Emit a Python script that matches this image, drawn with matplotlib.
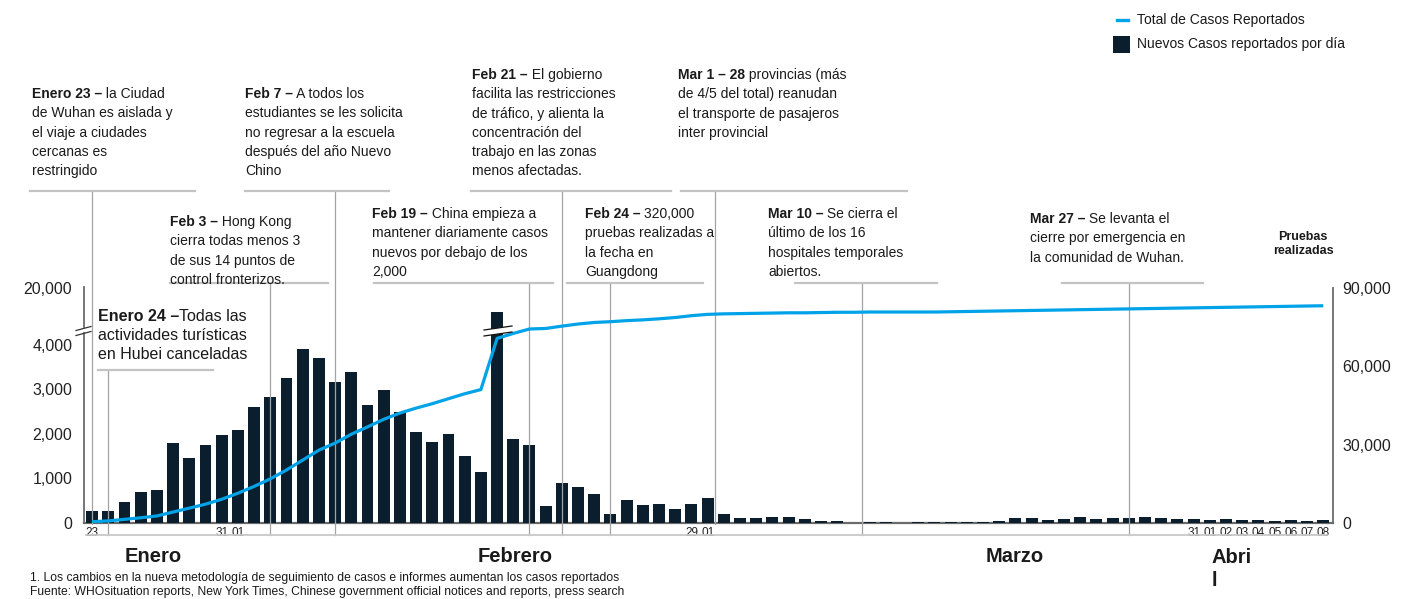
import numpy as np
import pandas as pd
import matplotlib
matplotlib.use("Agg")
from matplotlib import pyplot as plt
from matplotlib import font_manager, transforms
from matplotlib.patches import Polygon, Rectangle
from matplotlib.lines import Line2D

# ---- data ----
dates = pd.date_range("2020-01-23", "2020-04-08")
new_cases = [260, 260, 460, 690, 750, 1800, 1460, 1740, 1980, 2090,
             2590, 2830, 3240, 3910, 3710, 3170, 3390, 2650, 2990, 2480,
             2030, 1820, 2000, 1510, 1140, 13300, 1890, 1750, 390, 900,
             815, 660, 210, 520, 410, 430, 320, 430, 570, 210,
             120, 120, 140, 140, 100, 55, 55, 10, 30, 30,
             10, 30, 30, 30, 30, 30, 50, 120, 120, 75,
             100, 145, 100, 120, 120, 145, 120, 100, 100, 75,
             100, 75, 75, 55, 75, 55, 75]
total_cases = [500, 800, 1400, 2000, 2700, 4200, 5700, 7200, 9100, 11400,
               14000, 16900, 20300, 24100, 27900, 30600, 34000, 36800, 39700, 42100,
               44000, 45700, 47600, 49500, 51100, 70700, 72600, 74300, 74500, 75400,
               76200, 76800, 77100, 77500, 77800, 78200, 78700, 79400, 79900, 80100,
               80200, 80300, 80400, 80500, 80500, 80600, 80700, 80700, 80800, 80800,
               80800, 80800, 80800, 80900, 81000, 81100, 81200, 81300, 81400, 81500,
               81600, 81700, 81800, 81900, 82000, 82100, 82200, 82300, 82400, 82500,
               82600, 82700, 82800, 82900, 83000, 83100, 83200]
shown_days = ["2020-01-23", "2020-01-31", "2020-02-01", "2020-02-29", "2020-03-01",
              "2020-03-31", "2020-04-01", "2020-04-02", "2020-04-03", "2020-04-04",
              "2020-04-05", "2020-04-06", "2020-04-07", "2020-04-08"]
left_ticks = [0, 1000, 2000, 3000, 4000, 20000]
right_ticks = [0, 30000, 60000, 90000]

event_bold = ["Enero 23 \u2013", "Feb 7 \u2013", "Feb 21 \u2013", "Mar 1 \u2013 28",
              "Feb 3 \u2013", "Feb 19 \u2013", "Feb 24 \u2013", "Mar 10 \u2013",
              "Mar 27 \u2013", "Enero 24 \u2013"]
event_lines = [
    [" la Ciudad", "de Wuhan es aislada y", "el viaje a ciudades", "cercanas es", "restringido"],
    [" A todos los", "estudiantes se les solicita", "no regresar a la escuela",
     "despu\u00e9s del a\u00f1o Nuevo", "Chino"],
    [" El gobierno", "facilita las restricciones", "de tr\u00e1fico, y alienta la",
     "concentraci\u00f3n del", "trabajo en las zonas", "menos afectadas."],
    [" provincias (m\u00e1s", "de 4/5 del total) reanudan", "el transporte de pasajeros",
     "inter provincial"],
    [" Hong Kong", "cierra todas menos 3", "de sus 14 puntos de", "control fronterizos."],
    [" China empieza a", "mantener diariamente casos", "nuevos por debajo de los", "2,000"],
    [" 320,000", "pruebas realizadas a", "la fecha en", "Guangdong"],
    [" Se cierra el", "\u00faltimo de los 16", "hospitales temporales", "abiertos."],
    [" Se levanta el", "cierre por emergencia en", "la comunidad de Wuhan."],
    ["Todas las", "actividades tur\u00edsticas", "en Hubei canceladas"],
]
event_dates = ["2020-01-23", "2020-02-07", "2020-02-21", "2020-03-01", "2020-02-03",
               "2020-02-19", "2020-02-24", "2020-03-10", "2020-03-27", "2020-01-24"]

# ---- layout (pixels of the 1416x599 canvas) ----
W, H = 1416, 599
# text x, first baseline, rule x0, rule x1, rule y, line x offset (days)
event_layout = [
    (32, 98, 30, 195, 190.7, 0.0),
    (245, 98, 245, 389, 190.7, 0.0),
    (472, 79, 471, 671, 190.7, 0.0),
    (678, 79, 681, 907, 190.7, 0.45),
    (170, 226, 170, 328, 282.5, 0.0),
    (372, 218, 374, 553, 282.5, 0.0),
    (585, 218, 567, 703, 282.5, 0.0),
    (768, 218, 795, 937, 282.5, 0.55),
    (1030, 223, 1062, 1203, 282.5, 0.0),
    (98, 321, 98, 213, 369.7, 0.0),
]

NAVY = "#0b1e2e"
BLUE = "#00a3e8"
AXIS = "#6b6b6b"
TXT = "#1a1a1a"

plt.rcParams["font.family"] = "Liberation Sans"
names = {f.name for f in font_manager.fontManager.ttflist}
if "Liberation Sans Narrow" in names:
    NARROW, NSIZE = "Liberation Sans Narrow", 12
else:
    NARROW, NSIZE = "Liberation Sans", 10


def fx(x):
    return x / W


def fy(y):
    return 1 - y / H


fig = plt.figure(figsize=(W / 100, H / 100), dpi=100)
ax = fig.add_axes([fx(84), fy(523), (1333 - 84) / W, (523 - 288) / H])
x = np.arange(len(dates))

# broken left scale: linear to 4,000 then compressed up to 20,000
k = 1269 / 16000.0


def fwd(v):
    v = np.asarray(v, dtype=float)
    return np.where(v <= 4000, v, 4000 + (v - 4000) * k)


def inv(m):
    m = np.asarray(m, dtype=float)
    return np.where(m <= 4000, m, 4000 + (m - 4000) / k)


ax.set_yscale("function", functions=(fwd, inv))
ax.bar(x, new_cases, width=0.74, color=NAVY, zorder=2.6)
ax.set_xlim(-0.5, 76.6)
ax.set_ylim(0, 20000)
ax.set_yticks(left_ticks)
ax.set_yticklabels([f"{v:,}" for v in left_ticks])
ax.yaxis.set_minor_locator(matplotlib.ticker.NullLocator())
ax.set_xticks([])
ax.tick_params(axis="y", length=0, pad=8.5, labelsize=11.5, labelcolor="#222222")
for s in ["top", "right", "left"]:
    ax.spines[s].set_visible(False)
ax.spines["bottom"].set_color(AXIS)
ax.spines["bottom"].set_linewidth(1.6)
ax.patch.set_alpha(0)

ax2 = ax.twinx()
ax2.plot(x, total_cases, color=BLUE, lw=2.3, zorder=5, solid_capstyle="butt")
ax2.set_ylim(0, 90000)
ax2.set_yticks(right_ticks)
ax2.set_yticklabels([f"{v:,}" for v in right_ticks])
ax2.tick_params(axis="y", length=0, pad=7, labelsize=11.5, labelcolor="#222222")
for s in ["top", "left", "bottom"]:
    ax2.spines[s].set_visible(False)
ax2.spines["right"].set_color(AXIS)
ax2.spines["right"].set_linewidth(1.3)

# left spine with break
for y0, y1 in [(523, 333), (327, 287)]:
    fig.add_artist(Line2D([fx(84), fx(84)], [fy(y0), fy(y1)], color=AXIS, lw=1.3))
for dy in [0, 5]:
    fig.add_artist(Line2D([fx(76), fx(91)], [fy(330.5 + dy), fy(326.5 + dy)],
                          color="#333333", lw=0.9))

# break on the tall bar
bt = transforms.blended_transform_factory(ax.transData, fig.transFigure)
band = Polygon([(fx(484), fy(330)), (fx(512), fy(326)), (fx(512), fy(332)), (fx(484), fy(336))],
               closed=True, fc="white", ec="none", transform=fig.transFigure, zorder=6)
fig.add_artist(band)
for yy in [(330, 326), (336, 332)]:
    fig.add_artist(Line2D([fx(484), fx(512)], [fy(yy[0]), fy(yy[1])], color="#111111",
                          lw=0.9, zorder=7))

# event annotations
renderer = fig.canvas.get_renderer()
for bold, lines, d, lay in zip(event_bold, event_lines, event_dates, event_layout):
    tx, bl, r0, r1, ry, off = lay
    fam, size, lh = NARROW, NSIZE, 19.3
    if bold.startswith("Enero 24"):
        fam, size, lh = "Liberation Sans", 11.5, 19.0
    t = fig.text(fx(tx), fy(bl), bold, fontsize=size, family=fam, weight="bold",
                 color=TXT, va="baseline", ha="left")
    ext = t.get_window_extent(renderer=renderer)
    fig.text(ext.x1 / W, fy(bl), lines[0], fontsize=size, family=fam, color=TXT,
             va="baseline", ha="left")
    for i, ln in enumerate(lines[1:], start=1):
        fig.text(fx(tx), fy(bl + i * lh), ln, fontsize=size, family=fam, color=TXT,
                 va="baseline", ha="left")
    fig.add_artist(Line2D([fx(r0), fx(r1)], [fy(ry), fy(ry)], color="#c3c3c3", lw=1.6))
    xi = dates.get_loc(pd.Timestamp(d)) + off
    ax.add_line(Line2D([xi, xi], [fy(ry), fy(535)], transform=bt, color="#a3a3a3",
                       lw=0.9, clip_on=False, zorder=3))

# secondary day axis
fig.add_artist(Line2D([fx(86), fx(1327)], [fy(535), fy(535)], color="#c8c8c8", lw=1.3))
for d in shown_days:
    i = dates.get_loc(pd.Timestamp(d))
    ax.text(x[i], fy(533.5), dates[i].strftime("%d"), transform=bt, ha="center",
            va="center", fontsize=8.5, color="#222222",
            bbox=dict(boxstyle="square,pad=0.22", fc="white", ec="none"))

# month labels
for name, mx in [("Enero", 153.5), ("Febrero", 515), ("Marzo", 1015)]:
    fig.text(fx(mx), fy(562.5), name, ha="center", va="baseline", fontsize=14.5,
             weight="bold", color=TXT)
fig.text(fx(1212), fy(563), "Abri", ha="left", va="baseline", fontsize=14.5,
         weight="bold", color=TXT)
fig.text(fx(1212), fy(586), "l", ha="left", va="baseline", fontsize=14.5,
         weight="bold", color=TXT)

fig.text(fx(1303), fy(244), "Pruebas\nrealizadas", ha="center", va="center",
         fontsize=9, weight="bold", color=TXT, linespacing=1.25)

# legend
fig.add_artist(Line2D([fx(1117), fx(1128)], [fy(20), fy(20)], color=BLUE, lw=2.4))
fig.add_artist(Rectangle((fx(1113), fy(53)), 17 / W, 17 / H, fc=NAVY, ec="none",
                         transform=fig.transFigure))
fig.text(fx(1137), fy(20), "Total de Casos Reportados", fontsize=10, va="center",
         color=TXT)
fig.text(fx(1137), fy(44), "Nuevos Casos reportados por d\u00eda",
         fontsize=10, va="center", color=TXT)

# footnotes
fig.text(fx(30), fy(578), "1. Los cambios en la nueva metodolog\u00eda de seguimiento de casos "
         "e informes aumentan los casos reportados", fontsize=8.7, va="center", color=TXT)
fig.text(fx(30), fy(592), "Fuente: WHOsituation reports, New York Times, Chinese government "
         "official notices and reports, press search", fontsize=8.7, va="center", color=TXT)

fig.savefig("out.png", dpi=100)
